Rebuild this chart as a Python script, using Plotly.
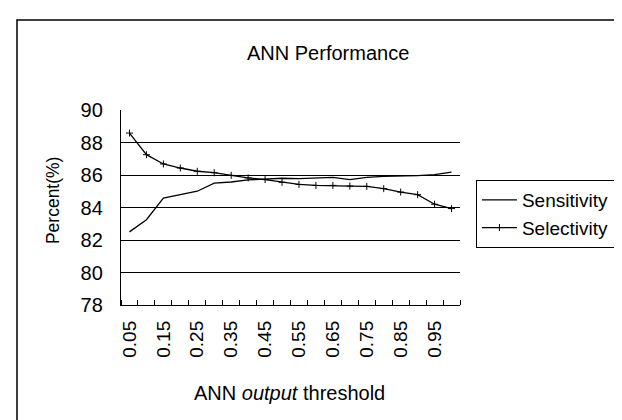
import plotly.graph_objects as go

thresholds = [0.05, 0.10, 0.15, 0.20, 0.25, 0.30, 0.35, 0.40, 0.45, 0.50,
              0.55, 0.60, 0.65, 0.70, 0.75, 0.80, 0.85, 0.90, 0.95, 1.00]
sensitivity = [82.5, 83.25, 84.58, 84.8, 85.0, 85.5, 85.57, 85.7, 85.77, 85.8,
               85.78, 85.8, 85.86, 85.71, 85.86, 85.92, 85.92, 85.96, 86.02, 86.18]
selectivity = [88.58, 87.25, 86.68, 86.43, 86.23, 86.14, 85.98, 85.82, 85.72, 85.55,
               85.42, 85.36, 85.36, 85.32, 85.3, 85.16, 84.95, 84.79, 84.2, 83.93]
tick_values = [0.05, 0.15, 0.25, 0.35, 0.45, 0.55, 0.65, 0.75, 0.85, 0.95]
tick_labels = ["0.05", "0.15", "0.25", "0.35", "0.45", "0.55", "0.65", "0.75", "0.85", "0.95"]
y_ticks = [78, 80, 82, 84, 86, 88, 90]

FONT = "Liberation Sans, Arial, sans-serif"
step = thresholds[1] - thresholds[0]
boundaries = [thresholds[0] - step / 2 + k * step for k in range(len(thresholds) + 1)]

fig = go.Figure()
fig.add_trace(go.Scatter(x=thresholds, y=sensitivity, mode="lines", name="Sensitivity",
                         line=dict(color="black", width=1.3)))
fig.add_trace(go.Scatter(x=thresholds, y=selectivity, mode="lines+markers", name="Selectivity",
                         line=dict(color="black", width=1.3),
                         marker=dict(symbol="cross-thin", size=5, color="black",
                                     line=dict(color="black", width=1))))

fig.update_layout(
    width=622, height=420,
    margin=dict(l=113, r=170, t=102, b=123),
    paper_bgcolor="white", plot_bgcolor="white",
    font=dict(family=FONT, color="black", size=19),
    showlegend=True,
    legend=dict(x=1.047, y=0.641, xanchor="left", yanchor="top",
                bordercolor="black", borderwidth=1, bgcolor="white",
                font=dict(size=19, family=FONT), itemwidth=35,
                tracegroupgap=0),
    xaxis=dict(range=[boundaries[0], boundaries[-1]], tickmode="array",
               tickvals=tick_values, ticktext=tick_labels, ticks="",
               tickangle=-90, tickfont=dict(size=19, family=FONT),
               ticklabelstandoff=7,
               showgrid=False, zeroline=False, showline=True,
               linecolor="black", linewidth=1.3,
               minor=dict(tickmode="array", tickvals=boundaries, ticks="inside",
                          ticklen=5, tickcolor="black", tickwidth=1, showgrid=False)),
    yaxis=dict(range=[78, 90], tickmode="array", tickvals=y_ticks,
               ticks="inside", ticklen=4, tickcolor="black",
               tickfont=dict(size=20, family=FONT), ticklabelstandoff=13,
               showgrid=True, gridcolor="black", gridwidth=1.3,
               zeroline=False, showline=True, linecolor="black", linewidth=1.3),
    shapes=[dict(type="rect", xref="paper", yref="paper",
                 x0=-0.3068, x1=1.8, y0=-0.9, y1=1.4615,
                 line=dict(color="black", width=1.5), fillcolor="rgba(0,0,0,0)",
                 layer="below")],
    annotations=[
        dict(text="ANN Performance", xref="paper", yref="paper", x=0.6106, y=1.292,
             xanchor="center", yanchor="middle",
             showarrow=False, font=dict(size=20, family=FONT)),
        dict(text="ANN <i>output</i> threshold", xref="paper", yref="paper", x=0.4985, y=-0.451,
             xanchor="center", yanchor="middle",
             showarrow=False, font=dict(size=20, family=FONT)),
        dict(text="Percent(%)", xref="paper", yref="paper", x=-0.2006, y=0.538,
             xanchor="center", yanchor="middle",
             textangle=-90, showarrow=False, font=dict(size=17.5, family=FONT)),
    ],
)

fig.write_html("out.html")
